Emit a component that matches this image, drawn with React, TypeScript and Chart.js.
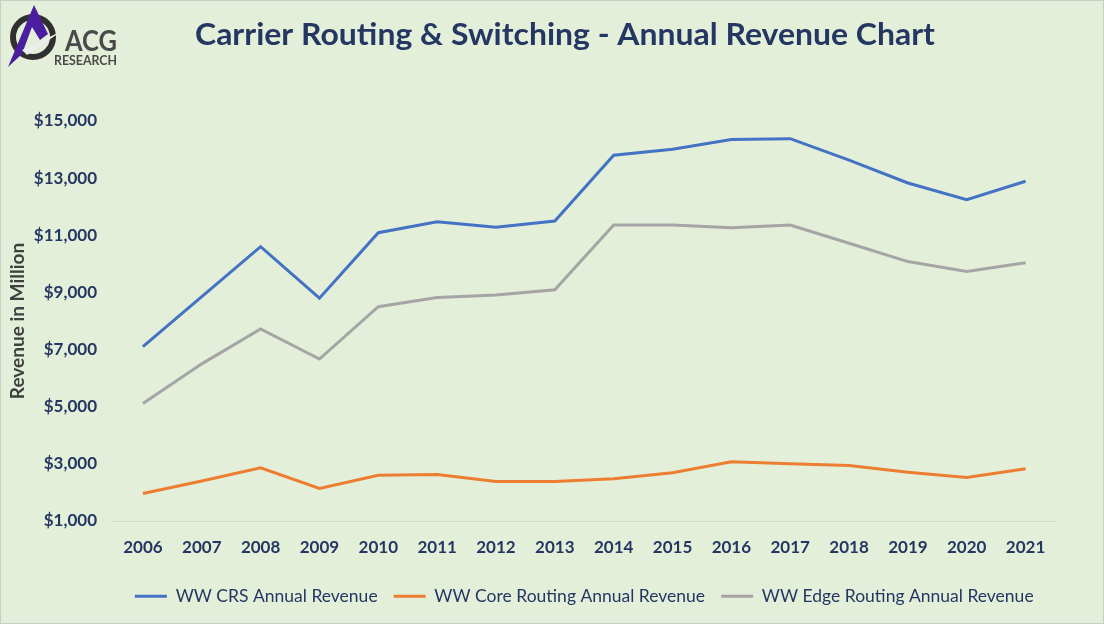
import React, { useEffect, useRef } from "react";
import { Chart, registerables } from "chart.js";

Chart.register(...registerables);

const TITLE = "Carrier Routing & Switching - Annual Revenue Chart";
const Y_TITLE = "Revenue in Million";

const years = ["2006", "2007", "2008", "2009", "2010", "2011", "2012", "2013", "2014", "2015", "2016", "2017", "2018", "2019", "2020", "2021"];
const crsRevenue = [7100, 8850, 10600, 8800, 11090, 11470, 11280, 11500, 13800, 14010, 14350, 14380, 13630, 12830, 12250, 12890];
const coreRevenue = [1960, 2400, 2860, 2140, 2600, 2630, 2380, 2380, 2480, 2690, 3070, 3000, 2940, 2710, 2520, 2830];
const edgeRevenue = [5110, 6500, 7720, 6670, 8500, 8820, 8910, 9090, 11360, 11360, 11260, 11360, 10720, 10080, 9730, 10040];
const seriesNames = ["WW CRS Annual Revenue", "WW Core Routing Annual Revenue", "WW Edge Routing Annual Revenue"];
const seriesColors = ["#4472C4", "#ED7D31", "#A5A5A5"];

const Y_MIN = 1000;
const Y_MAX = 15000;
const Y_STEP = 2000;

const BG = "#E4EFDA";
const NAVY = "#243762";
const FONT = "Lato, 'Open Sans', sans-serif";

export default function App() {
  const ref = useRef<HTMLCanvasElement | null>(null);

  useEffect(() => {
    if (!ref.current) return;
    const bgAndTitle = {
      id: "bgAndTitle",
      beforeDraw(chart: any) {
        const ctx = chart.ctx;
        ctx.save();
        ctx.fillStyle = BG;
        ctx.fillRect(0, 0, chart.width, chart.height);
        ctx.restore();
      },
      afterDraw(chart: any) {
        const ctx = chart.ctx;
        ctx.save();
        ctx.font = `bold 30px ${FONT}`;
        ctx.fillStyle = NAVY;
        ctx.textAlign = "center";
        ctx.textBaseline = "alphabetic";
        const w = ctx.measureText(TITLE).width;
        const sx = 740 / w;
        ctx.translate(565, 45);
        ctx.scale(sx, 1);
        ctx.fillText(TITLE, 0, 0);
        ctx.restore();
      },
    };

    const series = [crsRevenue, coreRevenue, edgeRevenue];
    const chart = new Chart(ref.current, {
      type: "line",
      data: {
        labels: years,
        datasets: series.map((d, i) => ({
          label: seriesNames[i],
          data: d,
          borderColor: seriesColors[i],
          backgroundColor: seriesColors[i],
          borderWidth: 3,
          pointRadius: 0,
          tension: 0,
          fill: false,
        })),
      },
      options: {
        responsive: false,
        animation: false,
        layout: { padding: { top: 121, right: 49, bottom: 9, left: 0 } },
        plugins: {
          title: { display: false },
          tooltip: { enabled: false },
          legend: {
            position: "bottom",
            fullSize: false,
            labels: {
              font: { family: FONT, size: 17.5 },
              color: NAVY,
              boxWidth: 32,
              boxHeight: 3,
              padding: 16,
              generateLabels: (c: any) =>
                (Chart.defaults.plugins.legend.labels as any)
                  .generateLabels(c)
                  .map((l: any) => ({ ...l, lineWidth: 0, fillStyle: l.strokeStyle })),
            },
          },
        },
        scales: {
          x: {
            offset: true,
            grid: { display: false, drawTicks: false },
            border: { display: true, color: "#CFD8CB", width: 1 },
            ticks: { font: { family: FONT, size: 17, weight: "bold" }, color: NAVY, padding: 16 },
            afterFit: (s: any) => {
              s.height = 50.5;
            },
          },
          y: {
            min: Y_MIN,
            max: Y_MAX,
            grid: { display: false, drawTicks: false },
            border: { display: false },
            ticks: {
              stepSize: Y_STEP,
              font: { family: FONT, size: 17, weight: "bold" },
              color: NAVY,
              padding: 16.5,
              callback: (v: any) => "$" + Number(v).toLocaleString("en-US"),
            },
            title: {
              display: true,
              text: Y_TITLE,
              font: { family: FONT, size: 19, weight: "bold" },
              color: "#404040",
              padding: { top: 6, bottom: 0 },
            },
            afterFit: (s: any) => {
              s.width = 113.5;
            },
          },
        },
      } as any,
      plugins: [bgAndTitle],
    });
    return () => chart.destroy();
  }, []);

  return (
    <div style={{ position: "fixed", left: 0, top: 0, width: 1104, height: 624, background: BG, overflow: "hidden" }}>
      <canvas ref={ref} width={1104} height={624} style={{ position: "absolute", left: 0, top: 0, width: 1104, height: 624 }} />
      <svg width="125" height="72" style={{ position: "absolute", left: 0, top: 0 }}>
        <circle cx="33" cy="37" r="20" fill="none" stroke="#303030" strokeWidth="6" />
        <polygon points="8,67 34,5 48,34 40,40 32,27 22,54" fill="#4A1E9E" />
        <polygon points="22,50 62,31 27,55" fill="#EDEDED" />
        <text x="65" y="51" fontFamily="Lato" fontWeight="bold" fontSize="29" fill="#4A4A4A" textLength="52" lengthAdjust="spacingAndGlyphs">ACG</text>
        <text x="54" y="65" fontFamily="Lato" fontWeight="bold" fontSize="14" fill="#4A4A4A" textLength="63" lengthAdjust="spacingAndGlyphs">RESEARCH</text>
      </svg>
      <div style={{ position: "absolute", left: 0, top: 0, width: 1102, height: 622, border: "1px solid #C9CFC4", pointerEvents: "none" }} />
    </div>
  );
}
